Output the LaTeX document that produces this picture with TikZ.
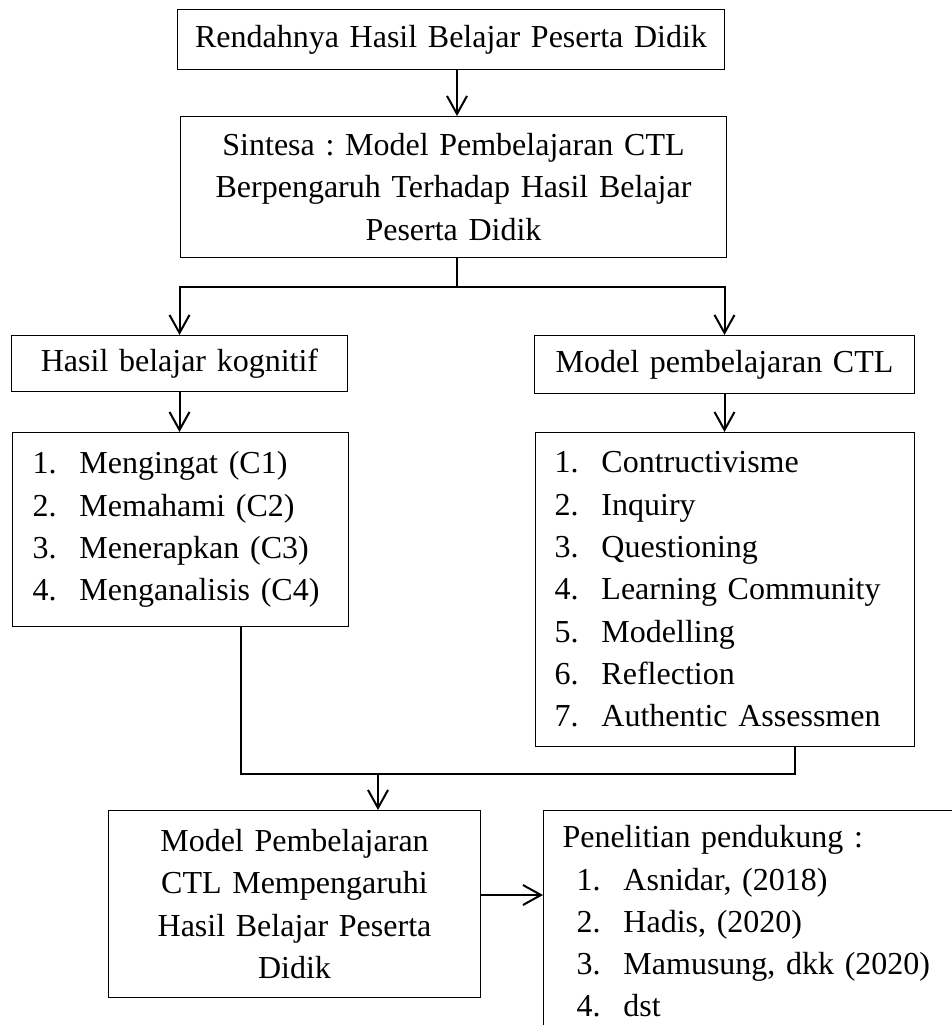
\documentclass[tikz,border=0pt]{standalone}
\usepackage{fontspec}
\setmainfont{Liberation Serif}
\usetikzlibrary{arrows.meta,calc}
\frenchspacing
\newcommand\itm[2]{\makebox[47pt][l]{#1}#2}
\begin{document}
\begin{tikzpicture}[x=1pt,y=-1pt,
  box/.style={draw, line width=1pt, anchor=north west, inner xsep=5pt, inner ysep=0pt,
    font=\fontsize{32}{42.3}\selectfont, align=center},
  conn/.style={line width=2pt},
  arr/.style={conn, -{Straight Barb[length=18pt,width=20pt]}}]
\clip (0,0) rectangle (952,1025);
\node[box, text width=537pt, minimum height=60pt] (b1) at (177,9) {Rendahnya Hasil Belajar Peserta Didik};
\node[box, text width=536pt, minimum height=141pt] (b2) at (180,116) {Sintesa : Model Pembelajaran CTL\\Berpengaruh Terhadap Hasil Belajar\\Peserta Didik};
\node[box, text width=326pt, minimum height=56pt] (b3) at (11,335) {Hasil belajar kognitif};
\node[box, text width=370pt, minimum height=58pt] (b4) at (534,335) {Model pembelajaran CTL};
\node[box, align=left, inner xsep=20pt, text width=296pt, minimum height=194pt] (b5) at (12,432)
  {\itm{1.}{Mengingat (C1)}\\\itm{2.}{Memahami (C2)}\\\itm{3.}{Menerapkan (C3)}\\\itm{4.}{Menganalisis (C4)}};
\node[box, align=left, inner xsep=19pt, text width=341pt, minimum height=314pt] (b6) at (535,432)
  {\itm{1.}{Contructivisme}\\\itm{2.}{Inquiry}\\\itm{3.}{Questioning}\\\itm{4.}{Learning Community}\\\itm{5.}{Modelling}\\\itm{6.}{Reflection}\\\itm{7.}{Authentic Assessmen}};
\node[box, text width=362pt, minimum height=187pt] (b7) at (108,810)
  {Model Pembelajaran\\CTL Mempengaruhi\\Hasil Belajar Peserta\\Didik};
\node[box, align=left, inner xsep=19pt, inner ysep=15pt, text width=420pt] (b8) at (543,810)
  {Penelitian pendukung :\\\hspace*{14pt}\itm{1.}{Asnidar, (2018)}\\\hspace*{14pt}\itm{2.}{Hadis, (2020)}\\\hspace*{14pt}\itm{3.}{Mamusung, dkk (2020)}\\\hspace*{14pt}\itm{4.}{dst}};
\coordinate (sx) at (457,0);
\coordinate (j1) at (457,287);
\coordinate (jL) at (241,774);
\coordinate (jR) at (795,774);
\coordinate (jM) at (378,774);
\coordinate (ja) at (0,895);
\draw[arr] (b1.south -| sx) -- (b2.north -| sx);
\draw[conn] (b2.south -| j1) -- (j1);
\draw[arr] (j1) -| (b3.north);
\draw[arr] (j1) -| (b4.north);
\draw[arr] (b3.south) -- (b5.north -| b3.south);
\draw[arr] (b4.south) -- (b6.north -| b4.south);
\draw[conn] (b5.south -| jL) -- (jL) -- (jR) -- (b6.south -| jR);
\draw[arr] (jM) -- (b7.north -| jM);
\draw[arr] (b7.east |- ja) -- (b8.west |- ja);
\end{tikzpicture}
\end{document}
